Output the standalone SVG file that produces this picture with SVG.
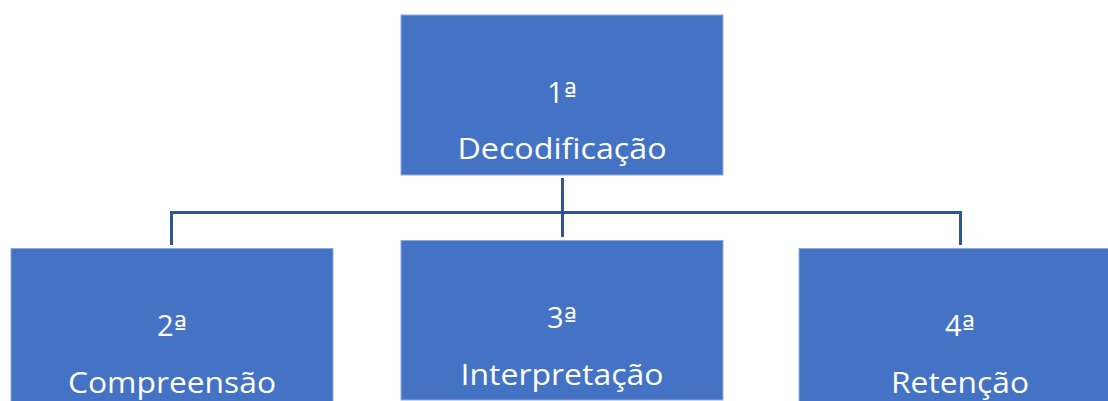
<svg xmlns="http://www.w3.org/2000/svg" width="1108" height="401" viewBox="0 0 1108 401">
<style>
.box{fill:#4472C4;stroke:#8EA9DB;stroke-width:1}
.conn{fill:none;stroke:#2F5597;stroke-width:3}
.t{font-family:"Open Sans","Noto Sans","Liberation Sans",sans-serif;font-size:29px;fill:#FFFFFF;text-anchor:middle}
.o{font-family:"DejaVu Sans",sans-serif;font-size:28px}
</style>
<rect width="1108" height="401" fill="#FFFFFF"/>
<g id="connectors">
<path class="conn" d="M562.5 178 V237"/>
<path class="conn" d="M171.5 245 V212.5 H960.5 V245"/>
</g>
<g id="node1">
<rect class="box" x="401" y="15" width="322" height="160"/>
<text class="t" x="562" y="103">1<tspan class="o">ª</tspan></text>
<text class="t" x="562" y="159" textLength="209" lengthAdjust="spacingAndGlyphs">Decodificação</text>
</g>
<g id="node2">
<rect class="box" x="11" y="248.5" width="322" height="160"/>
<text class="t" x="172" y="336">2<tspan class="o">ª</tspan></text>
<text class="t" x="172" y="393" textLength="208" lengthAdjust="spacingAndGlyphs">Compreensão</text>
</g>
<g id="node3">
<rect class="box" x="401" y="240.5" width="322" height="159.5"/>
<text class="t" x="562" y="328">3<tspan class="o">ª</tspan></text>
<text class="t" x="562" y="385" textLength="203" lengthAdjust="spacingAndGlyphs">Interpretação</text>
</g>
<g id="node4">
<rect class="box" x="799" y="248.5" width="322" height="160"/>
<text class="t" x="960" y="336">4<tspan class="o">ª</tspan></text>
<text class="t" x="960" y="393" textLength="138" lengthAdjust="spacingAndGlyphs">Retenção</text>
</g>
</svg>
